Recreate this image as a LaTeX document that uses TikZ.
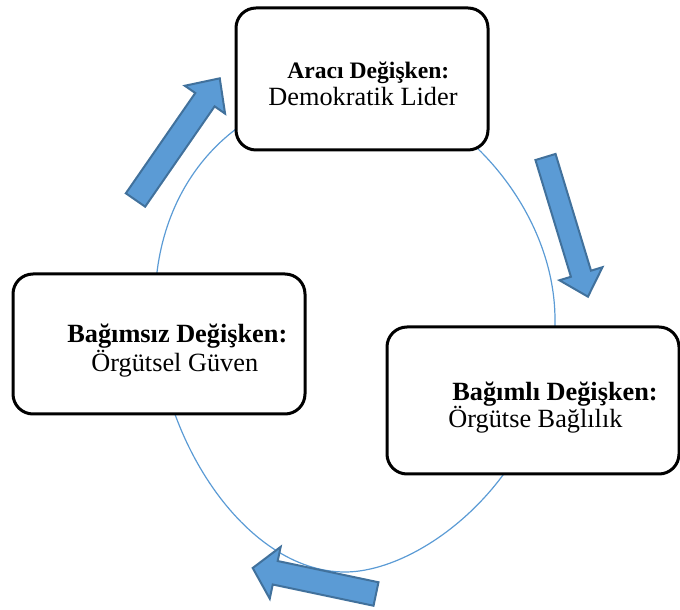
\documentclass[tikz,border=0pt]{standalone}
\usepackage{fontspec}
\setmainfont{Liberation Serif}
\definecolor{okmavi}{RGB}{91,155,213}
\definecolor{okkenar}{RGB}{65,113,156}

\begin{document}
\begin{tikzpicture}[x=0.5pt, y=0.5pt,
    kutu/.style={draw, line width=1.5pt, rounded corners=10pt, fill=white, inner sep=0pt},
    baslik/.style={anchor=base west, inner sep=0pt, font=\fontsize{13.15}{15}\selectfont\bfseries},
    ad/.style={anchor=base west, inner sep=0pt, font=\fontsize{13.15}{15}\selectfont},
    ok/.style={draw=okkenar, fill=okmavi, line width=1pt, line join=miter},
    halka/.style={draw=okmavi, line width=0.6pt}]
  \useasboundingbox (0,0) rectangle (680,610);
  % halka
  \draw[halka] (155,305) .. controls (155,175) and (245,38) .. (345,38)
    .. controls (425,38) and (555,140) .. (555,290)
    .. controls (555,410) and (445,520) .. (355,520)
    .. controls (245,520) and (155,435) .. (155,305) -- cycle;
  % kutular
  \node[kutu, minimum width=126pt, minimum height=71pt] (araci) at (362,531) {};
  \node[kutu, minimum width=146pt, minimum height=70pt] (bagimsiz) at (159,266) {};
  \node[kutu, minimum width=146pt, minimum height=73.5pt] (bagimli) at (533,209.5) {};
  % yazilar
  \node[baslik, font=\fontsize{11.8}{14}\selectfont\bfseries] (araciBaslik) at (287,531) {Aracı Değişken:};
  \node[ad] (araciAd) at (268,504) {Demokratik Lider};
  \node[baslik] (bagimsizBaslik) at (67,267) {Bağımsız Değişken:};
  \node[ad] (bagimsizAd) at (91,238) {Örgütsel Güven};
  \node[baslik] (bagimliBaslik) at (452,209) {Bağımlı Değişken:};
  \node[ad] (bagimliAd) at (448,182) {Örgütse Bağlılık};
  % oklar
  \draw[ok, shift={(135.5,410)}, rotate=55.3] (0,-11.75) -- (122,-11.75) -- (122,-24.5) -- (148,0) -- (122,24.5) -- (122,11.75) -- (0,11.75) -- cycle;
  \draw[ok, shift={(545.5,453)}, rotate=-73.1] (0,-10.5) -- (122,-10.5) -- (122,-22.5) -- (146,0) -- (122,22.5) -- (122,10.5) -- (0,10.5) -- cycle;
  \draw[ok, shift={(376,16)}, rotate=168.1] (0,-12) -- (103,-12) -- (103,-26.5) -- (126,0) -- (103,26.5) -- (103,12) -- (0,12) -- cycle;
\end{tikzpicture}
\end{document}
